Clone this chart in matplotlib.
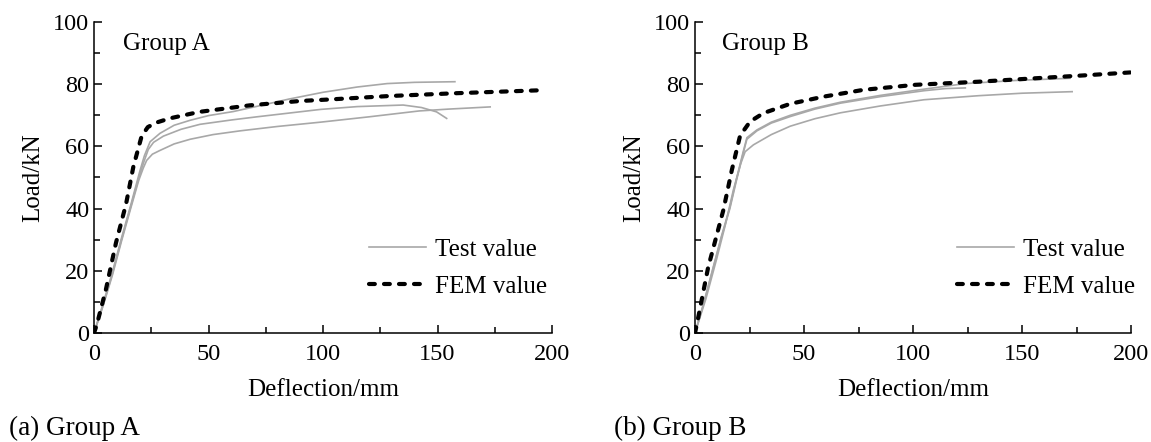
import matplotlib
matplotlib.use("Agg")
import matplotlib.pyplot as plt
from matplotlib.ticker import MultipleLocator

plt.rcParams["font.family"] = ["Liberation Serif", "DejaVu Serif"]

# Group A: FEM curve and three test curves (deflection mm, load kN)
fem_a_x = [0, 1.2, 5.2, 9.6, 14, 17.2, 20.8, 23.5, 27, 33, 46, 68, 90, 103, 129, 158, 197]
fem_a_y = [0, 2.6, 14, 29, 41.5, 53.5, 63.3, 66.2, 67.6, 69, 71.1, 73.2, 74.6, 75.1, 76.2, 77.1, 78.1]

test_a1_x = [0, 4, 8, 12, 16, 20, 22, 24.5, 28.8, 35, 42, 50, 60.8, 72.5, 85, 100, 115, 128, 140, 157.6]
test_a1_y = [0, 9.5, 19.5, 30.5, 41, 52, 57, 61.5, 64.2, 66.8, 68.4, 69.9, 71.2, 73.1, 75.2, 77.4, 79.1, 80.2, 80.6, 80.8]

test_a2_x = [0, 4, 8, 12, 16, 20, 22, 23.7, 26, 30.3, 38, 46.3, 60, 71, 85, 99, 115, 135, 143, 149.6, 154]
test_a2_y = [0, 9, 19, 30, 40.5, 51, 55.5, 59, 61.3, 63.3, 65.5, 67.1, 68.5, 69.5, 70.7, 71.9, 72.8, 73.3, 72.5, 71.1, 69]

test_a3_x = [0, 4, 8, 12, 16, 19.5, 21.5, 23, 25.5, 28.8, 35, 42, 52, 63.8, 80, 99, 120, 142, 155, 173]
test_a3_y = [0, 8.8, 18.5, 29.5, 40, 49, 53, 55.5, 57.5, 58.7, 60.8, 62.3, 63.8, 65, 66.4, 67.8, 69.5, 71.4, 72, 72.7]

# Group B
fem_b_x = [0, 1, 6, 13, 16.9, 20.7, 25.3, 31.4, 43.7, 59, 77.4, 101, 130, 156, 180, 200]
fem_b_y = [0, 3.3, 21, 39.5, 52.4, 63.5, 68, 70.7, 73.7, 76, 78.2, 79.8, 80.8, 81.9, 82.9, 83.8]

test_b1_x = [0, 4, 8.4, 12, 16, 19, 22, 23.8, 28.4, 35, 43.7, 55, 66.7, 85, 105, 115, 124]
test_b1_y = [0, 9.5, 21, 30.5, 40, 49, 57.5, 62.3, 65, 67.5, 69.6, 72, 73.9, 76, 77.9, 78.6, 78.8]

test_b2_x = [0, 4, 8.4, 12, 16, 19, 22, 23.8, 28.4, 35, 43.7, 55, 66.7, 85, 105, 124, 147, 172]
test_b2_y = [0, 9.6, 21.3, 30.8, 40.5, 49.5, 58, 62.8, 65.3, 67.8, 70, 72.3, 74.2, 76.4, 78.4, 80.2, 81.2, 81.9]

test_b3_x = [0, 5, 10, 14, 17.6, 21, 23, 26.8, 35, 43.7, 55, 66.7, 85, 105, 130, 150, 173]
test_b3_y = [0, 11, 24, 35, 46, 54.5, 58.3, 60.5, 63.8, 66.5, 68.9, 70.8, 73, 75, 76.3, 77.1, 77.6]

W, H = 1151, 442
fig = plt.figure(figsize=(W / 100, H / 100), dpi=100)

GRAY = "#a8a8a8"
FEM_STYLE = dict(color="black", lw=3.0, linestyle=(0, (1.4, 2.2)), dash_capstyle="round")


def draw_panel(ax, fem, tests, group_label):
    for i, (tx, ty) in enumerate(tests):
        ax.plot(tx, ty, color=GRAY, lw=1.2, label="Test value" if i == 0 else None)
    ax.plot(fem[0], fem[1], label="FEM value", **FEM_STYLE)

    ax.set_xlim(0, 200)
    ax.set_ylim(0, 100)
    ax.xaxis.set_major_locator(MultipleLocator(50))
    ax.xaxis.set_minor_locator(MultipleLocator(25))
    ax.yaxis.set_major_locator(MultipleLocator(20))
    ax.yaxis.set_minor_locator(MultipleLocator(10))
    ax.tick_params(which="both", direction="in", width=1.1, labelsize=17.5)
    ax.tick_params(which="major", length=6)
    ax.tick_params(which="minor", length=4)
    ax.tick_params(axis="x", pad=8)
    for side in ["top", "right"]:
        ax.spines[side].set_visible(False)
    for side in ["left", "bottom"]:
        ax.spines[side].set_linewidth(1.1)

    ax.set_xlabel("Deflection/mm", fontsize=18, labelpad=10)
    ax.set_ylabel("Load/kN", fontsize=18, labelpad=6)
    ax.text(12.5, 91, group_label, fontsize=18, va="baseline")
    ax.legend(loc="upper left", bbox_to_anchor=(0.6, 0.305), frameon=False, fontsize=18,
              handlelength=2.3, handletextpad=0.35, labelspacing=0.58, borderpad=0,
              borderaxespad=0)


ax_a = fig.add_axes([94 / W, 1 - 333 / H, 458 / W, 311 / H])
draw_panel(ax_a, (fem_a_x, fem_a_y),
           [(test_a1_x, test_a1_y), (test_a2_x, test_a2_y), (test_a3_x, test_a3_y)], "Group A")

ax_b = fig.add_axes([695 / W, 1 - 333 / H, 436 / W, 311 / H])
draw_panel(ax_b, (fem_b_x, fem_b_y),
           [(test_b1_x, test_b1_y), (test_b2_x, test_b2_y), (test_b3_x, test_b3_y)], "Group B")

fig.text(9 / W, 1 - 435 / H, "(a) Group A", fontsize=19.5, va="baseline")
fig.text(614 / W, 1 - 435 / H, "(b) Group B", fontsize=19.5, va="baseline")

fig.savefig("out.png", dpi=100)
